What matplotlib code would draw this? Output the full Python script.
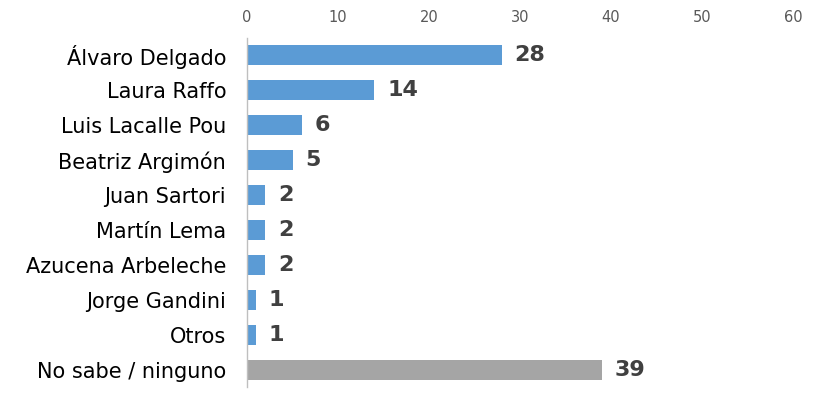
import matplotlib.pyplot as plt

candidatos = ["Álvaro Delgado", "Laura Raffo", "Luis Lacalle Pou", "Beatriz Argimón",
              "Juan Sartori", "Martín Lema", "Azucena Arbeleche", "Jorge Gandini",
              "Otros", "No sabe / ninguno"]
valores = [28, 14, 6, 5, 2, 2, 2, 1, 1, 39]
colores = ["#5b9bd5"] * 9 + ["#a5a5a5"]
ticks = [0, 10, 20, 30, 40, 50, 60]

plt.rcParams['font.family'] = ['DejaVu Sans']

fig = plt.figure(figsize=(8.3, 4.01), dpi=100)
ax = fig.add_axes([0.2976, 0.034, 0.658, 0.872])

y = range(len(candidatos))
ax.barh(y, valores, height=0.57, color=colores, zorder=2)

for i, v in enumerate(valores):
    ax.text(v + 1.4, i, str(v), va='center', ha='left', fontsize=16,
            fontweight='bold', color='#404040')

ax.set_xlim(0, 60)
ax.set_ylim(len(candidatos) - 0.5, -0.5)
ax.set_yticks(list(y))
ax.set_yticklabels(candidatos, fontsize=15, color='black')
ax.set_xticks(ticks)
ax.xaxis.tick_top()
ax.tick_params(axis='x', length=0, labelsize=10.5, labelcolor='#595959', pad=9)
ax.tick_params(axis='y', length=0, pad=15)

for s in ['top', 'right', 'bottom']:
    ax.spines[s].set_visible(False)
ax.spines['left'].set_color('#bfbfbf')
ax.spines['left'].set_linewidth(1)

fig.savefig('out.png', dpi=100)
